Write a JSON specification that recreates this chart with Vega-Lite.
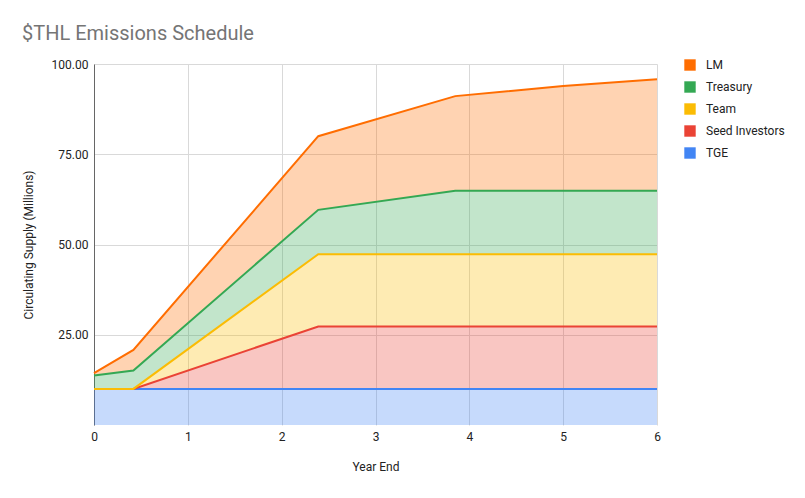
{
  "$schema": "https://vega.github.io/schema/vega-lite/v6.json",
  "width": 563,
  "height": 361,
  "autosize": {"type": "none"},
  "padding": {"left": 94, "top": 64, "right": 148, "bottom": 73},
  "background": "white",
  "title": {
    "text": "$THL Emissions Schedule",
    "anchor": "start",
    "frame": "group",
    "dx": -72,
    "offset": 14,
    "fontSize": 20,
    "font": "Roboto",
    "fontWeight": "normal",
    "color": "#757575"
  },
  "config": {
    "view": {"stroke": null},
    "font": "Roboto"
  },
  "data": {
    "values": [
      {"year": 0, "series": "TGE", "value": 10},
      {"year": 0.42, "series": "TGE", "value": 10},
      {"year": 2.39, "series": "TGE", "value": 10},
      {"year": 3.85, "series": "TGE", "value": 10},
      {"year": 5, "series": "TGE", "value": 10},
      {"year": 6, "series": "TGE", "value": 10},
      {"year": 0, "series": "Seed Investors", "value": 0},
      {"year": 0.42, "series": "Seed Investors", "value": 0},
      {"year": 2.39, "series": "Seed Investors", "value": 17.3},
      {"year": 3.85, "series": "Seed Investors", "value": 17.3},
      {"year": 5, "series": "Seed Investors", "value": 17.3},
      {"year": 6, "series": "Seed Investors", "value": 17.3},
      {"year": 0, "series": "Team", "value": 0},
      {"year": 0.42, "series": "Team", "value": 0},
      {"year": 2.39, "series": "Team", "value": 20},
      {"year": 3.85, "series": "Team", "value": 20},
      {"year": 5, "series": "Team", "value": 20},
      {"year": 6, "series": "Team", "value": 20},
      {"year": 0, "series": "Treasury", "value": 3.7},
      {"year": 0.42, "series": "Treasury", "value": 5.1},
      {"year": 2.39, "series": "Treasury", "value": 12.3},
      {"year": 3.85, "series": "Treasury", "value": 17.6},
      {"year": 5, "series": "Treasury", "value": 17.6},
      {"year": 6, "series": "Treasury", "value": 17.6},
      {"year": 0, "series": "LM", "value": 0.7},
      {"year": 0.42, "series": "LM", "value": 5.7},
      {"year": 2.39, "series": "LM", "value": 20.4},
      {"year": 3.85, "series": "LM", "value": 26.2},
      {"year": 5, "series": "LM", "value": 29.0},
      {"year": 6, "series": "LM", "value": 30.9}
    ]
  },
  "transform": [
    {"calculate": "indexof(['TGE','Seed Investors','Team','Treasury','LM'], datum.series)", "as": "stackOrder"}
  ],
  "encoding": {
    "x": {
      "field": "year",
      "type": "quantitative",
      "scale": {"domain": [0, 6], "nice": false},
      "axis": {
        "title": "Year End",
        "values": [0, 1, 2, 3, 4, 5, 6],
        "format": "d",
        "domain": false,
        "ticks": false,
        "labelFlush": false,
        "labelPadding": 6,
        "labelFontSize": 12,
        "labelColor": "#222222",
        "titleFontSize": 12,
        "titleFontWeight": "normal",
        "titleColor": "#222222",
        "titlePadding": 19,
        "gridColor": "#d9d9d9",
        "gridWidth": 1
      }
    },
    "y": {
      "field": "value",
      "type": "quantitative",
      "stack": "zero",
      "scale": {"domain": [0, 100], "nice": false},
      "axis": {
        "title": "Circulating Supply (Millions)",
        "values": [25, 50, 75, 100],
        "format": ".2f",
        "domain": true,
        "domainColor": "#666666",
        "ticks": false,
        "labelPadding": 6,
        "labelFontSize": 12,
        "labelColor": "#222222",
        "titleFontSize": 12,
        "titleFontWeight": "normal",
        "titleColor": "#222222",
        "titlePadding": 16,
        "gridColor": "#d9d9d9",
        "gridWidth": 1
      }
    },
    "color": {
      "field": "series",
      "type": "nominal",
      "scale": {
        "domain": ["LM", "Treasury", "Team", "Seed Investors", "TGE"],
        "range": ["#FF6D01", "#34A853", "#FBBC04", "#EA4335", "#4285F4"]
      },
      "legend": {
        "title": null,
        "orient": "none",
        "legendX": 590,
        "legendY": -5,
        "symbolType": "square",
        "symbolSize": 130,
        "symbolOpacity": 1,
        "symbolStrokeWidth": 0,
        "labelFontSize": 12,
        "labelColor": "#222222",
        "labelOffset": 10,
        "rowPadding": 10
      }
    },
    "order": {"field": "stackOrder", "type": "quantitative"}
  },
  "layer": [
    {"mark": {"type": "area", "opacity": 0.3, "line": false}},
    {"mark": {"type": "line", "strokeWidth": 2}}
  ]
}
